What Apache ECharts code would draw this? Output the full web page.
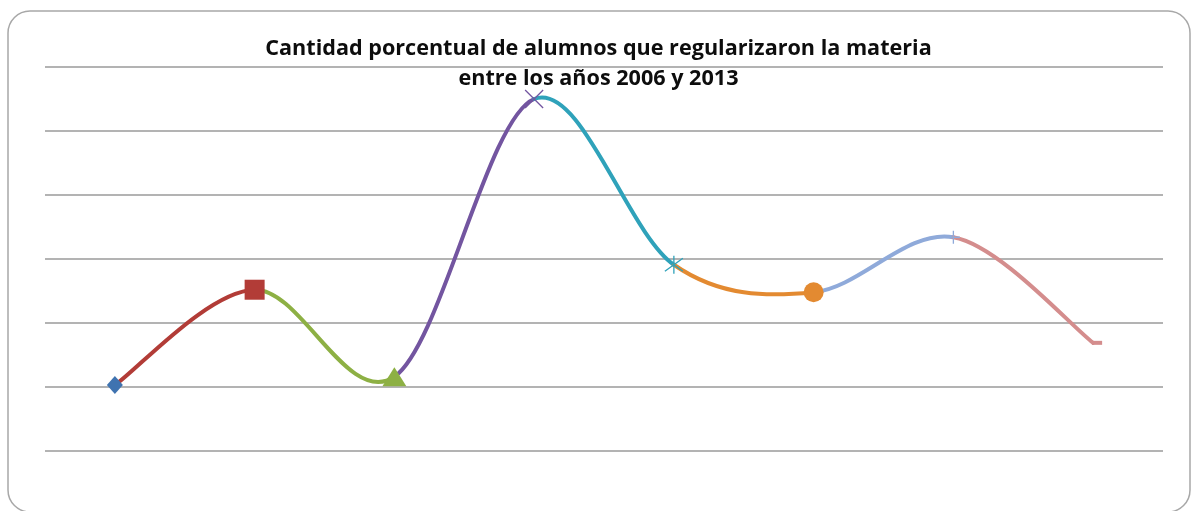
<!DOCTYPE html>
<html><head><meta charset="utf-8">
<script src="https://cdn.jsdelivr.net/npm/echarts@6/dist/echarts.min.js"></script>
<style>html,body{margin:0;padding:0;background:#fff}#c{width:1197px;height:511px}</style>
</head><body><div id="c"></div>
<script>
var years = ['2006','2007','2008','2009','2010','2011','2012','2013'];
var values = [10.3, 25.2, 11.6, 55.0, 29.1, 24.8, 33.4, 16.9];
var pointColors = ['#3F73B0','#B23C37','#8DB044','#7355A0','#2FA2BA','#E38A31','#8FAADA','#D48D8D'];
var pointSymbols = ['diamond','rect','triangle','path://M0,0L10,10M10,0L0,10','path://M0,0L10,10M10,0L0,10M5,-2L5,12','circle','path://M5,0L5,10M2,5L8,5','rect'];
var pointSizes = [[16,18],[20,20],[24,19],18,18,20,13,[10,4]];
var titleText = 'Cantidad porcentual de alumnos que regularizaron la materia\nentre los años 2006 y 2013';

var n = values.length;
function segment(params, api) {
  var i = params.dataIndex;
  if (i >= n - 1) return null;
  var ia = Math.max(i - 1, 0), id = Math.min(i + 2, n - 1);
  var p0 = api.coord([ia, values[ia]]);
  var p1 = api.coord([i, values[i]]);
  var p2 = api.coord([i + 1, values[i + 1]]);
  var p3 = api.coord([id, values[id]]);
  return {
    type: 'bezierCurve',
    shape: {
      x1: p1[0], y1: p1[1], x2: p2[0], y2: p2[1],
      cpx1: p1[0] + (p2[0] - p0[0]) / 6, cpy1: p1[1] + (p2[1] - p0[1]) / 6,
      cpx2: p2[0] - (p3[0] - p1[0]) / 6, cpy2: p2[1] - (p3[1] - p1[1]) / 6
    },
    style: {stroke: pointColors[i + 1], lineWidth: 4, fill: null, lineCap: 'round'}
  };
}
var markerData = values.map(function (v, i) {
  var stroke = pointSymbols[i].indexOf('path://') === 0;
  var d = {
    value: [i, v],
    symbol: pointSymbols[i],
    symbolSize: pointSizes[i],
    itemStyle: stroke ? {color: 'rgba(0,0,0,0)', borderColor: pointColors[i], borderWidth: 1.3, opacity: 1}
                      : {color: pointColors[i], opacity: 1}
  };
  if (i === n - 1) d.symbolOffset = [4, 0];
  return d;
});

var chart = echarts.init(document.getElementById('c'));
chart.setOption({
  animation: false,
  title: {
    text: titleText, left: 'center', top: 29,
    textStyle: {fontFamily: 'Open Sans, sans-serif', fontWeight: 'bold', fontSize: 21.6, color: '#0d0d0d', lineHeight: 30}
  },
  graphic: [{type: 'rect', shape: {x: 8, y: 11, width: 1182, height: 501, r: 22}, style: {fill: 'none', stroke: '#A8A8A8', lineWidth: 1.5}, z: -1}],
  grid: {left: 45, right: 34, top: 67, bottom: 60},
  xAxis: {type: 'category', data: years, boundaryGap: true, axisLine: {show: false}, axisTick: {show: false}, axisLabel: {show: false}},
  yAxis: {type: 'value', min: 0, max: 60, interval: 10, axisLabel: {show: false}, axisLine: {show: false}, axisTick: {show: false},
    splitLine: {lineStyle: {color: '#9A9A9A', width: 1.6}}},
  series: [
    {type: 'custom', renderItem: segment, data: values.map(function (v, i) { return [i, v]; }), encode: {x: 0, y: 1}, z: 2},
    {type: 'scatter', data: markerData, z: 3}
  ]
});
</script></body></html>
